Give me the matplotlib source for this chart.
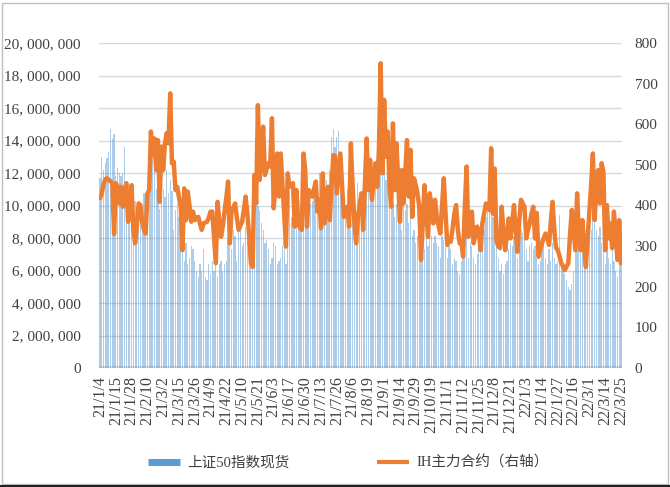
import matplotlib
matplotlib.use("Agg")
import matplotlib.pyplot as plt
import numpy as np
from matplotlib.patches import Rectangle
from matplotlib.lines import Line2D
from matplotlib.ticker import FuncFormatter, MultipleLocator

# ---------------- data ----------------
tick_labels = ["21/1/4", "21/1/15", "21/1/28", "21/2/10", "21/3/2", "21/3/15", "21/3/26",
               "21/4/9", "21/4/22", "21/5/10", "21/5/21", "21/6/3", "21/6/17", "21/6/30",
               "21/7/13", "21/7/26", "21/8/6", "21/8/19", "21/9/1", "21/9/14", "21/9/29",
               "21/10/19", "21/11/1", "21/11/12", "21/11/25", "21/12/8", "21/12/21",
               "22/1/3", "22/1/14", "22/1/27", "22/2/16", "22/3/1", "22/3/14", "22/3/25"]
tick_step = 9  # one label every 9 trading days

# 上证50指数现货 (millions)
sse50_spot_m = [
    11.7, 13.0, 12.2, 12.6, 12.9, 13.3, 14.7, 14.1, 14.4, 11.8,
    12.3, 12.0, 11.8, 12.0, 13.6, 11.2, 10.1, 10.6, 10.5, 9.7,
    10.3, 9.9, 9.3, 10.1, 9.7, 10.8, 10.7, 10.5, 14.1, 14.6,
    14.0, 12.2, 11.0, 11.2, 9.8, 11.6, 11.0, 10.5, 12.2, 10.8,
    11.6, 10.9, 8.5, 9.7, 10.1, 9.3, 8.7, 7.5, 6.6, 7.7,
    6.4, 6.8, 7.5, 7.3, 6.6, 6.0, 5.6, 6.4, 6.0, 7.3,
    5.6, 5.4, 6.4, 5.8, 6.6, 6.0, 7.5, 5.6, 6.4, 6.6,
    6.0, 6.4, 6.6, 7.7, 8.5, 7.3, 8.5, 8.1, 6.6, 8.9,
    9.1, 7.5, 7.7, 8.7, 9.3, 8.5, 6.4, 6.6, 8.5, 10.1,
    10.0, 9.7, 8.9, 8.5, 7.7, 7.9, 7.3, 6.4, 6.8, 7.7,
    7.5, 6.4, 6.6, 6.8, 7.5, 8.5, 6.4, 11.2, 10.8, 9.3,
    9.3, 10.1, 8.9, 8.7, 8.5, 9.3, 10.1, 10.9, 9.9, 9.3,
    10.1, 10.3, 10.5, 9.7, 11.0, 12.0, 11.2, 9.7, 10.5, 11.6,
    11.2, 12.2, 14.2, 14.7, 13.6, 14.2, 14.6, 11.6, 11.0, 10.1,
    9.3, 11.0, 9.7, 8.5, 9.3, 10.1, 8.5, 11.4, 10.5, 9.3,
    9.7, 10.5, 11.6, 11.2, 13.0, 12.2, 12.6, 12.4, 13.0, 13.6,
    12.8, 13.4, 12.6, 11.6, 11.4, 11.8, 10.5, 10.1, 9.3, 10.1,
    8.9, 9.3, 8.5, 10.1, 9.7, 10.1, 8.9, 9.3, 8.1, 8.5,
    7.7, 8.1, 7.5, 6.8, 7.7, 7.3, 8.1, 7.5, 8.3, 8.1,
    7.7, 8.1, 7.7, 7.5, 6.8, 8.1, 7.9, 7.5, 6.8, 7.5,
    7.3, 6.4, 6.8, 6.6, 6.0, 5.8, 6.6, 7.0, 8.5, 8.1,
    6.8, 7.7, 7.5, 6.8, 6.4, 7.0, 7.5, 7.3, 7.7, 8.5,
    9.3, 9.7, 10.1, 9.7, 9.3, 8.5, 7.5, 6.8, 6.0, 6.4,
    5.8, 6.4, 6.6, 7.3, 7.7, 7.5, 8.1, 7.3, 6.8, 7.7,
    8.5, 8.3, 8.1, 7.3, 6.6, 7.5, 7.7, 7.3, 7.5, 6.8,
    6.4, 6.6, 7.3, 7.7, 6.8, 6.4, 7.3, 6.6, 7.7, 6.8,
    6.4, 6.6, 9.4, 6.4, 6.2, 5.8, 5.4, 5.0, 4.8, 5.2,
    6.0, 7.3, 8.1, 7.5, 7.7, 8.5, 7.3, 8.1, 9.3, 9.7,
    8.5, 9.3, 8.9, 8.5, 8.1, 8.7, 7.7, 7.3, 6.4, 7.5,
    6.8, 6.4, 7.3, 6.6, 6.0, 5.6, 6.4, 6.8,
]

# IH主力合约 (right axis)
ih_main = [
    418, 430, 452, 465, 467, 463, 460, 455, 330, 455,
    446, 405, 446, 397, 438, 455, 360, 410, 450, 340,
    307, 350, 405, 401, 360, 340, 331, 430, 438, 582,
    524, 565, 487, 561, 409, 545, 487, 553, 578, 553,
    676, 504, 508, 438, 446, 420, 397, 290, 442, 364,
    434, 400, 360, 385, 364, 370, 372, 355, 340, 356,
    358, 360, 370, 385, 385, 320, 258, 409, 360, 323,
    350, 385, 420, 459, 307, 389, 395, 405, 370, 340,
    350, 360, 390, 422, 380, 327, 258, 249, 475, 405,
    647, 463, 520, 594, 475, 490, 504, 496, 615, 393,
    450, 528, 422, 528, 450, 380, 299, 479, 446, 450,
    455, 348, 438, 356, 345, 340, 528, 487, 348, 438,
    430, 422, 440, 459, 385, 414, 344, 479, 356, 420,
    446, 364, 450, 524, 522, 430, 480, 528, 450, 372,
    380, 397, 348, 553, 450, 360, 307, 372, 400, 430,
    340, 450, 565, 438, 512, 414, 460, 504, 446, 537,
    750, 479, 660, 520, 582, 450, 397, 602, 438, 553,
    460, 360, 487, 405, 479, 561, 422, 537, 372, 467,
    450, 430, 397, 266, 360, 450, 380, 323, 430, 400,
    356, 414, 372, 350, 331, 400, 467, 380, 303, 320,
    311, 344, 380, 401, 340, 307, 311, 274, 400, 496,
    323, 350, 385, 307, 330, 348, 330, 290, 356, 380,
    405, 400, 389, 541, 380, 491, 315, 300, 295, 397,
    340, 290, 330, 368, 319, 360, 401, 340, 286, 360,
    414, 405, 397, 319, 340, 356, 380, 397, 319, 382,
    274, 290, 307, 320, 331, 320, 303, 360, 409, 340,
    295, 290, 275, 258, 250, 241, 250, 258, 330, 389,
    340, 290, 430, 330, 290, 364, 300, 249, 320, 385,
    450, 528, 364, 450, 487, 405, 504, 483, 290, 401,
    319, 356, 295, 385, 330, 266, 364, 258,
]

series_names = ["上证50指数现货", "IH主力合约（右轴）"]

# ---------------- style ----------------
BLUE = "#5B9BD5"
ORANGE = "#ED7D31"
GRID = "#D9D9D9"
num_font = "Liberation Serif"
cjk_fonts = ["Liberation Serif", "Noto Sans CJK SC"]

fig = plt.figure(figsize=(6.70, 4.87), dpi=100)
ax = fig.add_axes([99 / 670, 1 - 368 / 487, (622 - 99) / 670, (368 - 43) / 487])
ax2 = ax.twinx()

n = len(ih_main)
x = np.arange(n)
spot = np.array(sse50_spot_m) * 1e6

ax.bar(x, spot, width=0.7, color=BLUE, alpha=0.5, linewidth=0, zorder=2)
ax2.plot(x, ih_main, color=ORANGE, linewidth=3.2, solid_joinstyle="round",
         solid_capstyle="round", zorder=3)

ax.set_xlim(-0.6, n - 0.4)
ax.set_ylim(0, 20_000_000)
ax2.set_ylim(0, 800)
ax.yaxis.set_major_locator(MultipleLocator(2_000_000))
ax2.yaxis.set_major_locator(MultipleLocator(100))
ax.yaxis.set_major_formatter(FuncFormatter(lambda v, p: f"{int(v):,}".replace(",", ", ")))

ax.grid(axis="y", color=GRID, linewidth=1.0, zorder=0)
ax.set_axisbelow(True)

for a in (ax, ax2):
    for s in ("top", "right", "left", "bottom"):
        a.spines[s].set_visible(False)
    a.tick_params(length=0)

ax.axhline(0, color="#D9D9D9", linewidth=3, zorder=1)

tick_pos = np.arange(0, n, tick_step)[: len(tick_labels)]
ax.set_xticks(tick_pos)
ax.set_xticklabels(tick_labels, rotation=90, fontsize=11.5, family=num_font, color="#404040")
ax.tick_params(axis="x", pad=6)
ax.tick_params(axis="y", pad=13)
ax2.tick_params(axis="y", pad=9)
for lab in ax.get_yticklabels():
    lab.set_family(num_font); lab.set_fontsize(11); lab.set_color("#404040")
for lab in ax2.get_yticklabels():
    lab.set_family(num_font); lab.set_fontsize(11); lab.set_color("#404040")

# legend
handles = [Line2D([0], [0], color=BLUE, linewidth=5, solid_capstyle="butt"),
           Line2D([0], [0], color=ORANGE, linewidth=3, solid_capstyle="butt")]
leg = fig.legend(handles, series_names, loc="center", bbox_to_anchor=(348 / 670, 1 - 463 / 487),
                 ncol=2, frameon=False, handlelength=2.2, handletextpad=0.5, columnspacing=6.0,
                 prop={"family": cjk_fonts, "size": 10.5})
for t in leg.get_texts():
    t.set_color("#404040")

# chart border
fig.patches.append(Rectangle((0.003, 0.006), 0.994, 0.988, transform=fig.transFigure,
                             fill=False, edgecolor="#BFBFBF", linewidth=1.0))
fig.lines.append(Line2D([0, 1], [0.003, 0.003], transform=fig.transFigure,
                        color="#202020", linewidth=1.5))

fig.savefig("out.png", dpi=100)
